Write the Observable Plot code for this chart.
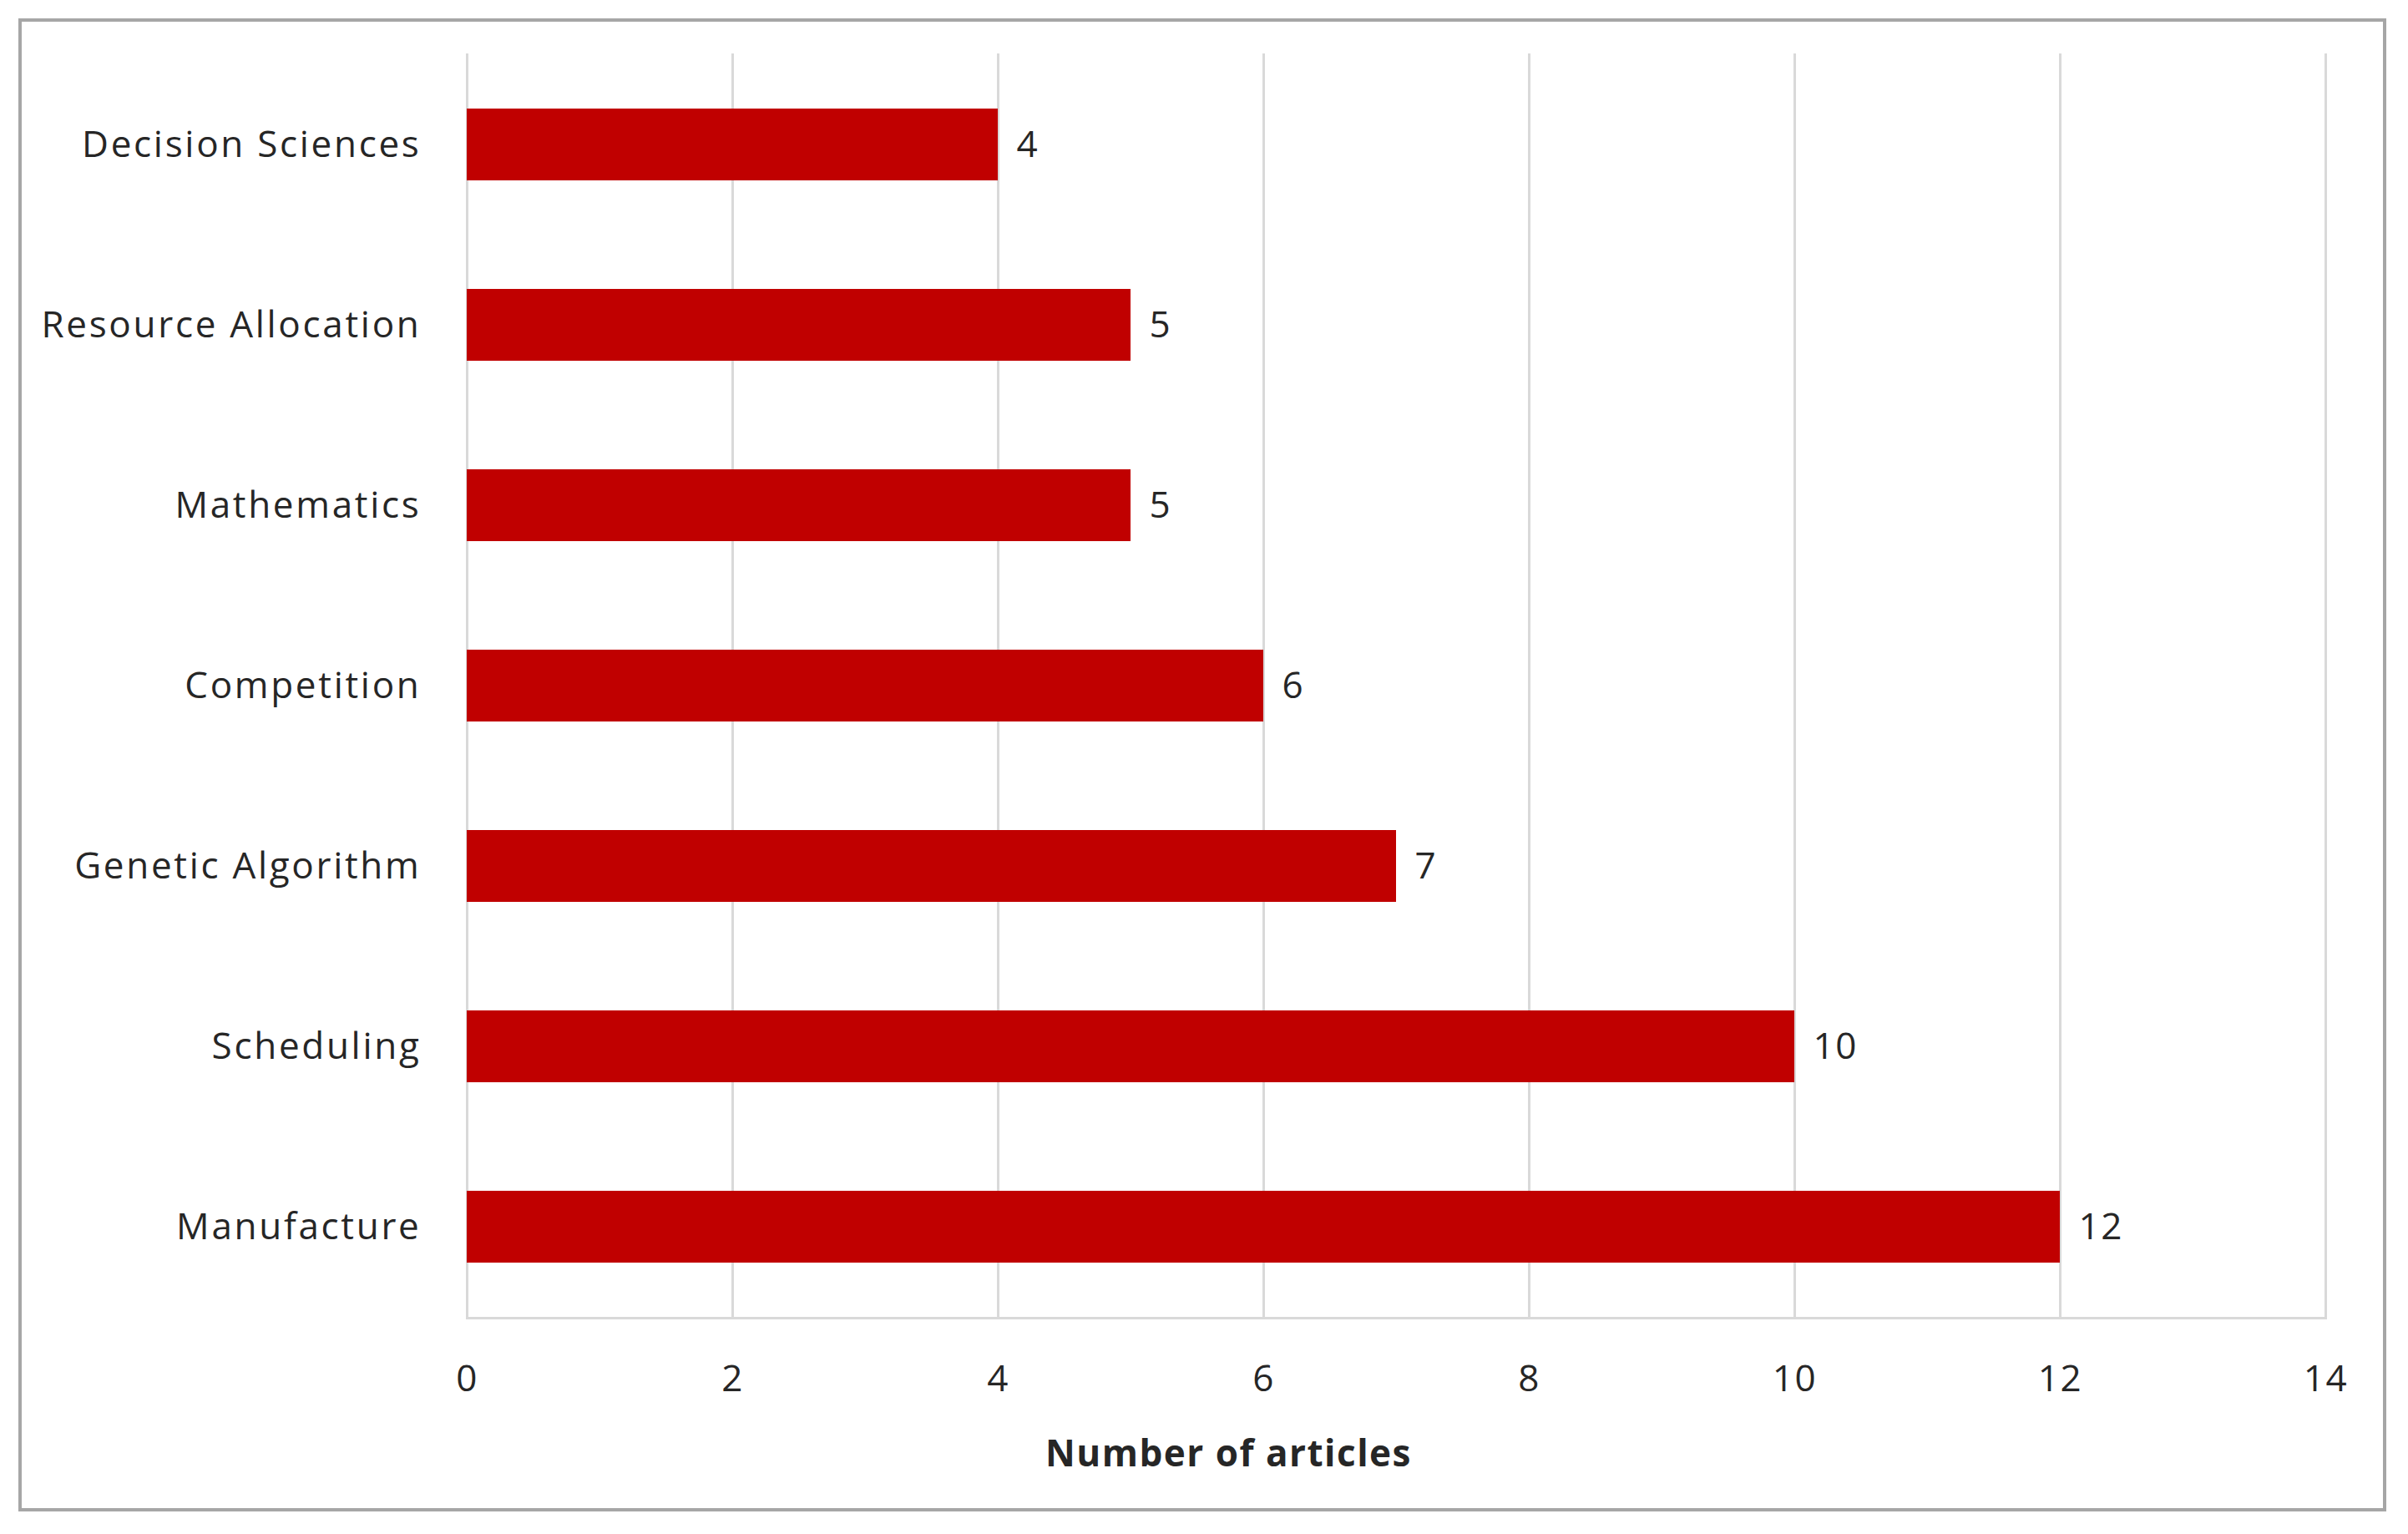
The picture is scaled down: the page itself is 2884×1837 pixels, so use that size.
<!DOCTYPE html>
<html>
<head>
<meta charset="utf-8">
<script src="https://cdn.jsdelivr.net/npm/d3@7"></script>
<script src="https://cdn.jsdelivr.net/npm/@observablehq/plot@0.6"></script>
<style>
  html, body { margin: 0; padding: 0; background: #fff; }
  #wrap { position: relative; width: 2884px; height: 1837px; }
  #border { position: absolute; left: 22px; top: 22px; width: 2828px; height: 1780px; border: 4px solid #a6a6a6; pointer-events: none; }
  svg text { letter-spacing: 1.5px; }
  svg g[aria-label="y-axis tick label"] text { letter-spacing: 2.7px; }
</style>
</head>
<body>
<div id="wrap"><div id="border"></div></div>
<script>
const categories = ["Decision Sciences", "Resource Allocation", "Mathematics", "Competition", "Genetic Algorithm", "Scheduling", "Manufacture"];
const values = [4, 5, 5, 6, 7, 10, 12];
const xTicks = [0, 2, 4, 6, 8, 10, 12, 14];
const xLabel = "Number of articles";

const data = categories.map((c, i) => ({category: c, value: values[i]}));

const chart = Plot.plot({
  width: 2884,
  height: 1837,
  marginLeft: 559,
  marginRight: 99,
  marginTop: 64,
  marginBottom: 259,
  style: {fontFamily: "'Open Sans', Lato, sans-serif", fontSize: "44px", color: "#262626", background: "transparent"},
  x: {domain: [0, 14], ticks: xTicks},
  y: {domain: categories, paddingInner: 0.6, paddingOuter: 0.3},
  marks: [
    Plot.ruleX(xTicks, {stroke: "#d9d9d9", strokeWidth: 3}),
    Plot.frame({anchor: "bottom", stroke: "#d9d9d9", strokeWidth: 3}),
    Plot.barX(data, {x: "value", y: "category", fill: "#c00000"}),
    Plot.text(data, {x: "value", y: "category", text: d => String(d.value), textAnchor: "start", dx: 22, fill: "#262626", fontSize: 44}),
    Plot.axisX({ticks: xTicks, tickSize: 0, tickPadding: 56, label: null, fontSize: 44, fill: "#262626"}),
    Plot.axisY({tickSize: 0, tickPadding: 55, label: null, fontSize: 44, fill: "#262626"}),
    Plot.text([xLabel], {frameAnchor: "bottom", dy: 177, dx: -201, text: d => d, fontWeight: "bold", fontSize: 44, fill: "#262626"})
  ]
});
document.getElementById("wrap").appendChild(chart);
chart.style.position = "absolute";
chart.style.left = "0";
chart.style.top = "0";
</script>
</body>
</html>
